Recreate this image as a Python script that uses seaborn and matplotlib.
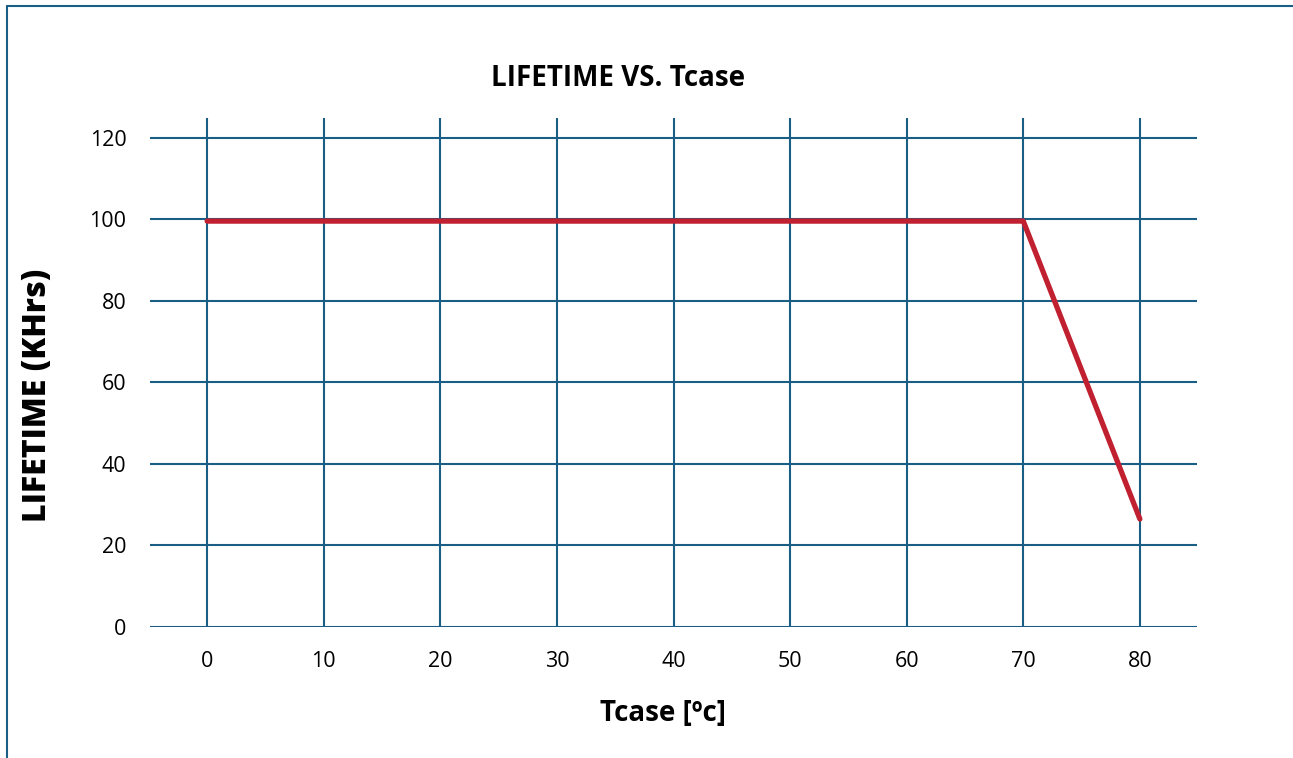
import matplotlib
matplotlib.use("Agg")
import matplotlib.pyplot as plt
from matplotlib.lines import Line2D
import seaborn as sns
import pandas as pd

tcase = [0, 70, 80]
lifetime = [99.6, 99.6, 26.5]
x_ticks = [0, 10, 20, 30, 40, 50, 60, 70, 80]
y_ticks = [0, 20, 40, 60, 80, 100, 120]

sns.set_theme(style="white")
plt.rcParams['font.family'] = ['Open Sans', 'DejaVu Sans']
plt.rcParams['text.color'] = 'black'
plt.rcParams['axes.labelcolor'] = 'black'

W, H = 1293, 758
fig = plt.figure(figsize=(W / 100, H / 100), dpi=100)
ax = fig.add_axes([150 / W, 1 - 627 / H, (1197 - 150) / W, (627 - 118) / H])

grid_c = "#1a5e86"
df = pd.DataFrame({"Tcase": tcase, "Lifetime": lifetime})
sns.lineplot(data=df, x="Tcase", y="Lifetime", ax=ax, color="#c0202f",
             linewidth=3.8, zorder=3)

ax.set_xlim(-4.9, 84.9)
ax.set_ylim(0, 124.9)
ax.set_xticks(x_ticks)
ax.set_yticks(y_ticks)
ax.grid(True, color=grid_c, linewidth=1.5)
for s in ax.spines.values():
    s.set_visible(False)
ax.tick_params(axis="both", length=0, labelsize=15.5, colors="black")
ax.tick_params(axis="x", pad=17)
ax.tick_params(axis="y", pad=17)
ax.set_xlabel("")
ax.set_ylabel("")
fig.text(663 / W, 1 - 713 / H, "Tcase [ºc]", ha="center", va="center",
         fontsize=20, fontweight="bold")
fig.text(38 / W, 1 - 395 / H, "LIFETIME (KHrs)", ha="center", va="center",
         rotation=90, fontsize=23, fontweight="heavy")
fig.text(618 / W, 1 - 78 / H, "LIFETIME VS. Tcase", ha="center", va="center",
         fontsize=20, fontweight="bold")

fig.add_artist(Line2D([7 / W, 1], [1 - 6 / H, 1 - 6 / H], color=grid_c,
                      linewidth=1.5, transform=fig.transFigure))
fig.add_artist(Line2D([7 / W, 7 / W], [1 - 6 / H, 0], color=grid_c,
                      linewidth=1.5, transform=fig.transFigure))

fig.savefig("out.png", dpi=100)
